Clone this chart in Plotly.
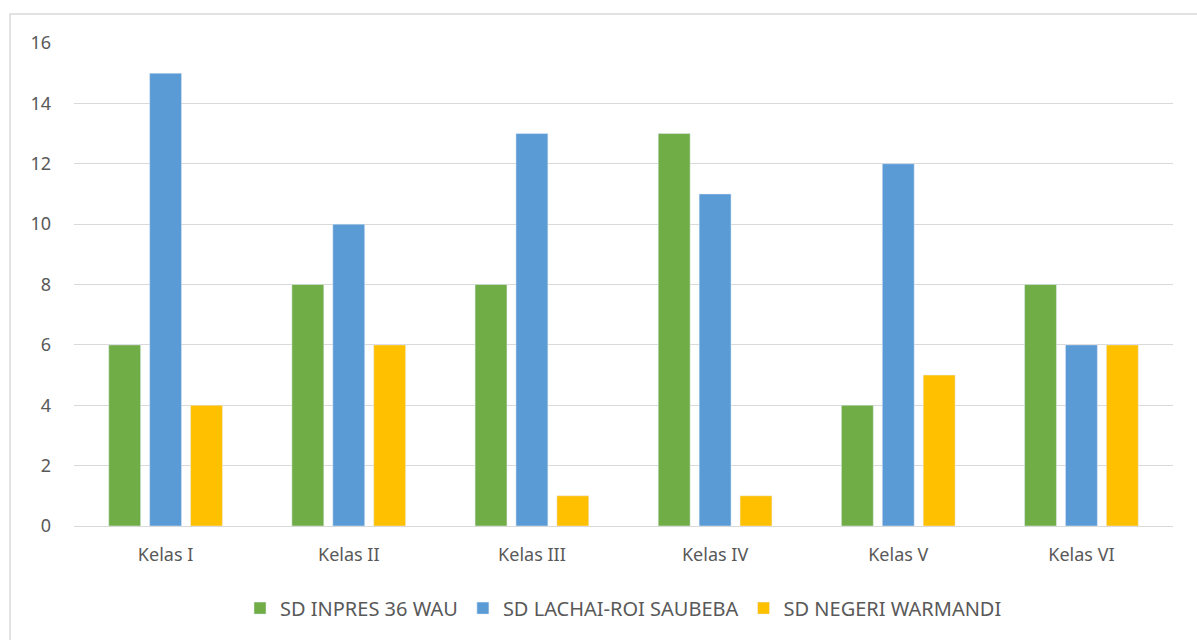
import plotly.graph_objects as go

# data
kelas = ['Kelas I', 'Kelas II', 'Kelas III', 'Kelas IV', 'Kelas V', 'Kelas VI']
sd_inpres = [6, 8, 8, 13, 4, 8]
sd_lachai = [15, 10, 13, 11, 12, 6]
sd_negeri = [4, 6, 1, 1, 5, 6]

fnt = dict(family='Noto Sans, Open Sans, sans-serif', size=18, color='#595959')

fig = go.Figure()
fig.add_trace(go.Bar(x=kelas, y=sd_inpres, name='SD INPRES 36 WAU', marker_color='#70AD47'))
fig.add_trace(go.Bar(x=kelas, y=sd_lachai, name='SD LACHAI-ROI SAUBEBA', marker_color='#5B9BD5'))
fig.add_trace(go.Bar(x=kelas, y=sd_negeri, name='SD NEGERI WARMANDI', marker_color='#FFC000'))

fig.update_layout(
    width=1197, height=640,
    margin=dict(l=74, r=24, t=43, b=114),
    paper_bgcolor='white', plot_bgcolor='white',
    font=fnt,
    barmode='group', bargap=0.33, bargroupgap=0.22,
    showlegend=True,
    legend=dict(orientation='h', x=0.5, xanchor='center', y=-0.17, yanchor='middle',
                font=dict(fnt, size=20), itemwidth=30),
    xaxis=dict(showline=True, linecolor='#D9D9D9', linewidth=1, ticks='',
               ticklabelstandoff=12, showgrid=False),
    yaxis=dict(range=[0, 16], dtick=2, showgrid=True, gridcolor='#D9D9D9', gridwidth=1,
               zeroline=False, showline=False, ticks='', ticklabelstandoff=22),
    # outer chart border like the Excel chart area (right/bottom edges fall off the page)
    shapes=[dict(type='rect', xref='paper', yref='paper', x0=-0.0582, x1=1.1,
                 y0=-0.4, y1=1.060, line=dict(color='#D9D9D9', width=1.5),
                 fillcolor='rgba(0,0,0,0)', layer='below')],
)

# drop the default body margin so the page is exactly the figure size
fig.write_html('out.html', config={'displayModeBar': False},
               post_script="document.body.style.margin='0';document.body.style.overflow='hidden';")
